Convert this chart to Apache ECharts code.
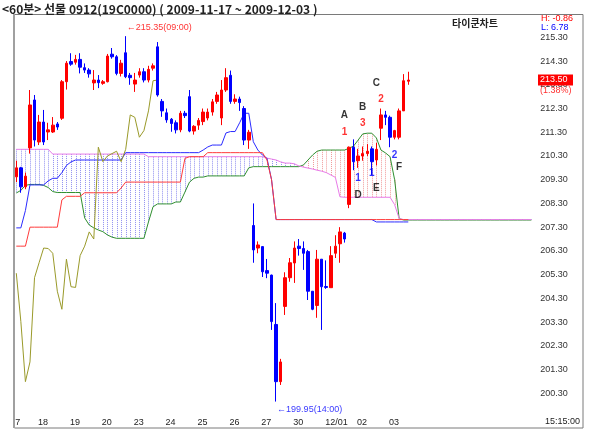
<!DOCTYPE html>
<html><head><meta charset="utf-8">
<script src="https://cdn.jsdelivr.net/npm/echarts@6/dist/echarts.min.js"></script>
<style>html,body{margin:0;padding:0;background:#fff}#c{width:600px;height:431px}</style>
</head><body><div id="c"></div>
<script>
// ---------- data ----------
const titleText = '<60분> 선물 0912(19C0000) ( 2009-11-17 ~ 2009-12-03 )';
const dayLabels = ['7','18','19','20','23','24','25','26','27','30','12/01','02','03'];
const barsPerDay = [3,7,7,7,7,7,7,7,7,7,7,7,7];
const hours = ['09:00','10:00','11:00','12:00','13:00','14:00','15:00'];
const futureSlots = 28;
const priceMin = 199.3, priceMax = 216.3, priceStep = 1;

const opens = [209.42,209.8,209.0,210.64,212.66,210.89,211.73,211.31,211.31,211.65,
211.89,213.43,214.28,214.25,214.37,214.02,213.92,213.38,213.5,213.36,
213.43,214.59,214.48,213.78,214.65,213.7,213.33,213.71,213.85,213.5,
214.0,214.9,212.6,212.12,211.85,211.7,211.4,212.1,212.8,211.35,
211.6,211.75,211.9,212.15,212.6,211.9,213.08,213.7,212.6,212.7,
212.3,210.97,207.37,206.42,206.48,205.47,205.28,203.2,200.79,203.96,
205.17,205.79,206.5,206.4,206.27,204.6,204.0,205.95,204.8,204.75,
206.2,206.6,207.05,208.26,210.67,210.1,210.3,210.4,210.6,210.13,
211.47,212.03,211.93,211.09,211.09,212.2,213.45];
const closes = [209.8,209.0,209.45,212.45,210.97,211.73,210.89,211.4,211.6,211.52,
213.43,214.21,214.17,214.37,214.04,213.92,213.76,213.5,213.39,213.43,
214.51,214.48,213.78,214.21,213.64,213.6,213.5,213.85,213.5,213.95,
214.1,212.87,212.2,211.82,211.67,211.4,212.1,212.0,211.35,211.55,
211.8,212.15,212.15,212.58,212.87,213.08,213.6,212.6,212.7,212.55,
210.97,211.3,206.34,206.55,205.42,205.36,203.32,200.79,201.62,205.17,
205.8,206.42,206.4,206.2,204.6,203.84,205.95,204.79,204.76,206.1,
206.5,207.1,206.8,210.67,210.06,210.3,210.4,210.5,210.06,210.58,
212.03,211.93,211.09,211.37,212.2,213.47,213.5];
const lows = [209.2,208.75,208.9,210.4,210.7,210.76,210.76,210.97,211.27,211.4,
211.82,213.1,214.1,214.15,213.78,213.8,213.6,213.08,213.16,213.3,
213.4,214.4,213.7,213.65,213.58,213.3,213.0,213.6,213.4,213.4,
213.9,212.8,211.95,211.7,211.32,211.25,211.3,211.9,211.3,211.2,
211.4,211.6,211.8,212.0,212.5,211.6,213.0,212.5,212.5,212.2,
210.76,210.6,205.8,206.2,205.2,205.15,202.97,199.95,200.65,203.6,
205.0,204.95,206.1,205.5,204.23,203.8,203.48,202.97,204.7,204.75,
206.0,205.8,206.65,208.1,209.7,209.8,210.1,210.3,209.5,209.9,
210.97,211.6,210.67,211.0,211.0,212.2,213.3];
const highs = [210.1,209.84,209.6,213.08,212.87,212.03,212.24,211.7,211.94,211.73,
213.5,214.3,214.63,214.56,214.63,214.2,214.0,213.92,213.71,213.5,
214.6,214.85,214.55,214.35,215.35,213.8,213.8,214.0,214.0,214.1,
214.2,215.1,212.7,212.3,211.9,211.8,212.2,212.2,213.08,211.6,
211.9,212.3,212.3,212.7,213.0,213.5,214.0,213.9,212.9,212.8,
212.4,211.4,208.3,206.7,206.5,205.96,205.3,204.1,201.75,205.4,
206.0,206.7,206.8,206.7,206.34,204.6,206.34,205.95,205.9,206.5,
206.96,207.3,207.1,210.7,211.0,210.6,210.7,210.8,210.7,210.85,
212.3,212.2,212.0,211.4,212.3,213.75,213.85];

// Ichimoku-style lines
const laggingSpan = [205.36,203.32,200.79,201.62,205.17,205.8,206.42,206.4,206.2,204.6,
203.84,205.95,204.79,204.76,206.1,206.5,207.1,206.8,210.67,210.06,
210.3,210.4,210.5,210.06,210.58,212.03,211.93,211.09,211.37,212.2,213.47,213.5];
const redLine = [206.5,206.5,206.5,207.3,207.3,207.3,207.3,207.3,207.3,207.3,
208.45,208.6,208.6,208.6,208.6,208.75,208.75,208.75,208.75,208.75,
208.75,208.75,208.75,208.95,209.2,209.2,209.2,209.2,209.2,209.2,
209.2,209.2,209.2,209.2,209.2,209.2,209.2,210.2,210.27,210.27,
210.27,210.27,210.44,210.44,210.44,210.44,210.44,210.44,210.44,210.44,
210.44,210.44,210.44,210.44,210.44,210.13,209.3,207.62,207.62,207.62,
207.62,207.62,207.62,207.62,207.62,207.62,207.62,207.62,207.62,207.62,
207.62,207.62,207.62,207.62,207.62,207.62,207.62,207.62,207.62,207.62,
207.62,207.62,207.62,207.62,207.62,207.62,207.62];
const blueLine = [207.27,207.27,208.0,209.08,209.08,209.08,209.08,209.25,209.36,209.36,
209.6,209.9,210.05,210.13,210.13,210.13,210.13,210.13,210.13,210.13,
210.13,210.13,210.13,210.13,210.44,210.44,210.44,210.44,210.44,210.44,
210.44,210.44,210.44,210.44,210.44,210.44,210.44,210.44,210.44,210.44,
210.44,210.55,210.68,210.76,210.76,210.76,211.27,211.33,211.33,211.7,
212.1,212.1,210.9,210.55,210.34,210.2,209.3,207.62,207.62,207.62,
207.62,207.62,207.62,207.62,207.62,207.62,207.62,207.62,207.62,207.62,
207.62,207.62,207.62,207.62,207.62,207.62,207.62,207.62,207.62,207.52,
207.52,207.52,207.52,207.52,207.52,207.52,207.52];
const spanPink = [210.58,210.58,210.58,210.58,210.58,210.58,210.58,210.58,210.38,210.38,
210.38,210.38,210.38,210.38,210.38,210.38,210.38,210.38,210.38,210.38,
210.38,210.38,210.38,210.38,210.38,210.38,210.38,210.38,210.38,210.27,
210.27,210.27,210.27,210.27,210.27,210.27,210.27,210.27,210.27,210.27,
210.27,210.27,210.27,210.27,210.27,210.27,210.27,210.27,210.27,210.27,
210.27,210.27,210.27,210.27,210.27,210.21,210.17,210.13,210.05,210.0,
210.0,209.97,209.88,209.83,209.79,209.75,209.7,209.66,209.6,209.5,
209.4,208.58,208.56,208.56,208.56,208.56,208.56,208.56,208.56,208.56,
208.56,208.56,208.56,208.25,207.66,207.62,207.62,207.62,207.62,207.62,
207.62,207.62,207.62,207.62,207.62,207.62,207.62,207.62,207.62,207.62,
207.62,207.62,207.62,207.62,207.62,207.62,207.62,207.62,207.62,207.62,
207.62,207.62,207.62,207.62];
const spanGreen = [208.74,208.85,209.06,209.1,209.1,209.1,209.06,208.97,208.8,208.76,
208.76,208.76,208.76,208.76,208.76,207.69,207.39,207.27,207.18,207.11,
206.97,206.88,206.83,206.83,206.83,206.83,206.83,206.83,206.83,207.52,
208.16,208.28,208.28,208.28,208.28,208.36,208.36,208.78,209.2,209.36,
209.41,209.41,209.46,209.46,209.46,209.46,209.46,209.46,209.46,209.46,
209.46,209.8,209.85,209.85,209.85,209.85,209.85,209.85,209.85,209.85,
209.85,209.85,209.85,209.92,210.13,210.34,210.5,210.55,210.55,210.55,
210.55,210.55,210.55,210.62,210.72,210.97,211.23,211.26,211.26,211.06,
210.55,210.43,210.27,209.3,207.66,207.6,207.6,207.6,207.6,207.6,
207.6,207.6,207.6,207.6,207.6,207.6,207.6,207.6,207.6,207.6,
207.6,207.6,207.6,207.6,207.6,207.6,207.6,207.6,207.6,207.6,
207.6,207.6,207.6,207.6];

// wave annotations
const waveTexts  = ['A','1','B','3','C','2','1','D','1','E','2','F'];
const waveBars   = [72,72,76,76,79,80,75,75,78,79,83,84];
const wavePrices = [212.03,211.31,212.37,211.69,213.38,212.70,209.37,208.66,209.58,208.95,210.34,209.84];
const waveKinds  = ['tag','up','tag','up','tag','up','dn','tag','dn','tag','dn','tag'];

const highNote = {bar:24, price:215.35, text:'←215.35(09:00)'};
const lowNote  = {bar:57, price:199.95, text:'←199.95(14:00)'};
const hlText = ['H: -0.86','L: 6.78'];
const changeText = '(1.38%)';
const lastTime = '15:15:00';
const brandText = '타이쿤차트';

// ---------- build ----------
const categories = [];
const dayStart = {};
barsPerDay.forEach((n, d) => {
  dayStart[categories.length] = dayLabels[d];
  hours.slice(hours.length - n).forEach(h => categories.push(dayLabels[d] + ' ' + h));
});
for (let i = 0; i < futureSlots; i++) categories.push('f' + i);
const N = categories.length;
const pad = a => a.concat(new Array(N - a.length).fill(null));
const candleData = opens.map((o, i) => [o, closes[i], lows[i], highs[i]]);
const cloudData = spanPink.map((p, i) => [i, p, spanGreen[i]]);

const kindStyle = {tag:'#000000', up:'#ff0000', dn:'#0000ff'};
const font = 'Liberation Sans, Arial, sans-serif';

const chart = echarts.init(document.getElementById('c'), null, {renderer:'canvas'});
function line(data, color, z) {
  return {type:'line', data: pad(data), symbol:'none', silent:true, z,
    lineStyle:{color, width:1}, itemStyle:{color}, animation:false};
}
chart.setOption({
  animation:false,
  backgroundColor:'#ffffff',
  grid:{left:14.02, top:13.6, width:524.17, height:403.4},
  xAxis:{type:'category', data:categories, boundaryGap:true,
    axisLine:{show:false}, axisTick:{show:false}, splitLine:{show:false},
    axisLabel:{interval:(i)=>dayStart[i]!==undefined, margin:1, align:'left',
      color:'#222', fontSize:9, fontFamily:font,
      formatter:(v,i)=> i===0 ? '{f|'+dayStart[i]+'}' : '{d|'+dayStart[i]+'}',
      rich:{f:{fontSize:9, fontFamily:font, color:'#222', padding:[0,0,0,-1]},
            d:{fontSize:9, fontFamily:font, color:'#222', padding:[0,0,0,8]}}}},
  yAxis:{type:'value', position:'right', min:priceMin, max:priceMax, interval:priceStep,
    axisLine:{show:false}, axisTick:{show:false}, splitLine:{show:false},
    axisLabel:{margin:2, color:'#333', fontSize:9, fontFamily:font,
      formatter:v=> (v < priceMin + 0.5 || v > priceMax - 0.5) ? '' : v.toFixed(2)}},
  series:[
    {type:'custom', silent:true, z:1, data:cloudData, encode:{x:0, y:[1,2]},
      renderItem:(params, api)=>{
        const a = api.value(1), b = api.value(2);
        if (Math.abs(a-b) < 0.02) return null;
        const p1 = api.coord([api.value(0), a]), p2 = api.coord([api.value(0), b]);
        const x = Math.round(p1[0]) + 0.5;
        return {type:'line', shape:{x1:x, y1:p1[1], x2:x, y2:p2[1]},
          style:{stroke: a > b ? '#8f8ff0' : '#f09a9a', lineWidth:1, lineDash:[1,1]}};
      }},
    line(spanGreen, '#2f8f2f', 2),
    line(spanPink, '#e87be8', 3),
    line(blueLine, '#2b2bff', 4),
    line(redLine, '#ff3b3b', 5),
    line(laggingSpan, '#9a9a2a', 6),
    {type:'candlestick', data:candleData, barWidth:3, z:10, silent:true,
      itemStyle:{color:'#ff0000', color0:'#0000ff', borderColor:'#ff0000', borderColor0:'#0000ff', borderWidth:1}},
    {type:'scatter', symbolSize:0, z:12, silent:true,
      data: waveTexts.map((t,i)=>({value:[waveBars[i], wavePrices[i]],
        label:{show:true, position:'inside', formatter:t, color:kindStyle[waveKinds[i]],
          fontSize:10, fontWeight:'bold', fontFamily:font}}))},
    {type:'scatter', symbolSize:0, z:12, silent:true,
      data:[{value:[highNote.bar, highNote.price], label:{show:true, position:'right', distance:1, offset:[0,-9],
              formatter:highNote.text, color:'#ff0000', fontSize:9, fontFamily:font}},
            {value:[lowNote.bar, lowNote.price], label:{show:true, position:'right', distance:1, offset:[0,8],
              formatter:lowNote.text, color:'#0000ff', fontSize:9, fontFamily:font}}]}
  ]
});

const lastClose = closes[closes.length - 1];
const yLast = chart.convertToPixel({yAxisIndex:0}, lastClose);
chart.setOption({graphic:[
  {type:'rect', shape:{x:14.5, y:14.5, width:568.5, height:413.5}, style:{fill:null, stroke:'#7a7a7a', lineWidth:1}, z:20, silent:true},
  {type:'line', shape:{x1:14, y1:14, x2:14, y2:428}, style:{stroke:'#a0a0a0', lineWidth:2}, z:20, silent:true},
  {type:'text', x:2, y:3, style:{text:titleText, font:'bold 12px "Noto Sans CJK KR"', fill:'#222'}, z:20},
  {type:'text', x:452, y:18, style:{text:brandText, font:'bold 10px "Noto Sans CJK KR"', fill:'#222'}, z:20},
  {type:'text', x:541, y:14, style:{text:hlText[0], font:'9px '+font, fill:'#ff0000'}, z:20},
  {type:'text', x:541, y:23, style:{text:hlText[1], font:'9px '+font, fill:'#0000ff'}, z:20},
  {type:'rect', shape:{x:538, y:yLast-5.5, width:35, height:11}, style:{fill:'#ff0000'}, z:20},
  {type:'text', x:540, y:yLast-5, style:{text:lastClose.toFixed(2), font:'9px '+font, fill:'#ffffff'}, z:21},
  {type:'text', x:540, y:yLast+6, style:{text:changeText, font:'9px '+font, fill:'#ff3030'}, z:21},
  {type:'text', x:545, y:417, style:{text:lastTime, font:'9px '+font, fill:'#222'}, z:20}
]});
</script></body></html>
